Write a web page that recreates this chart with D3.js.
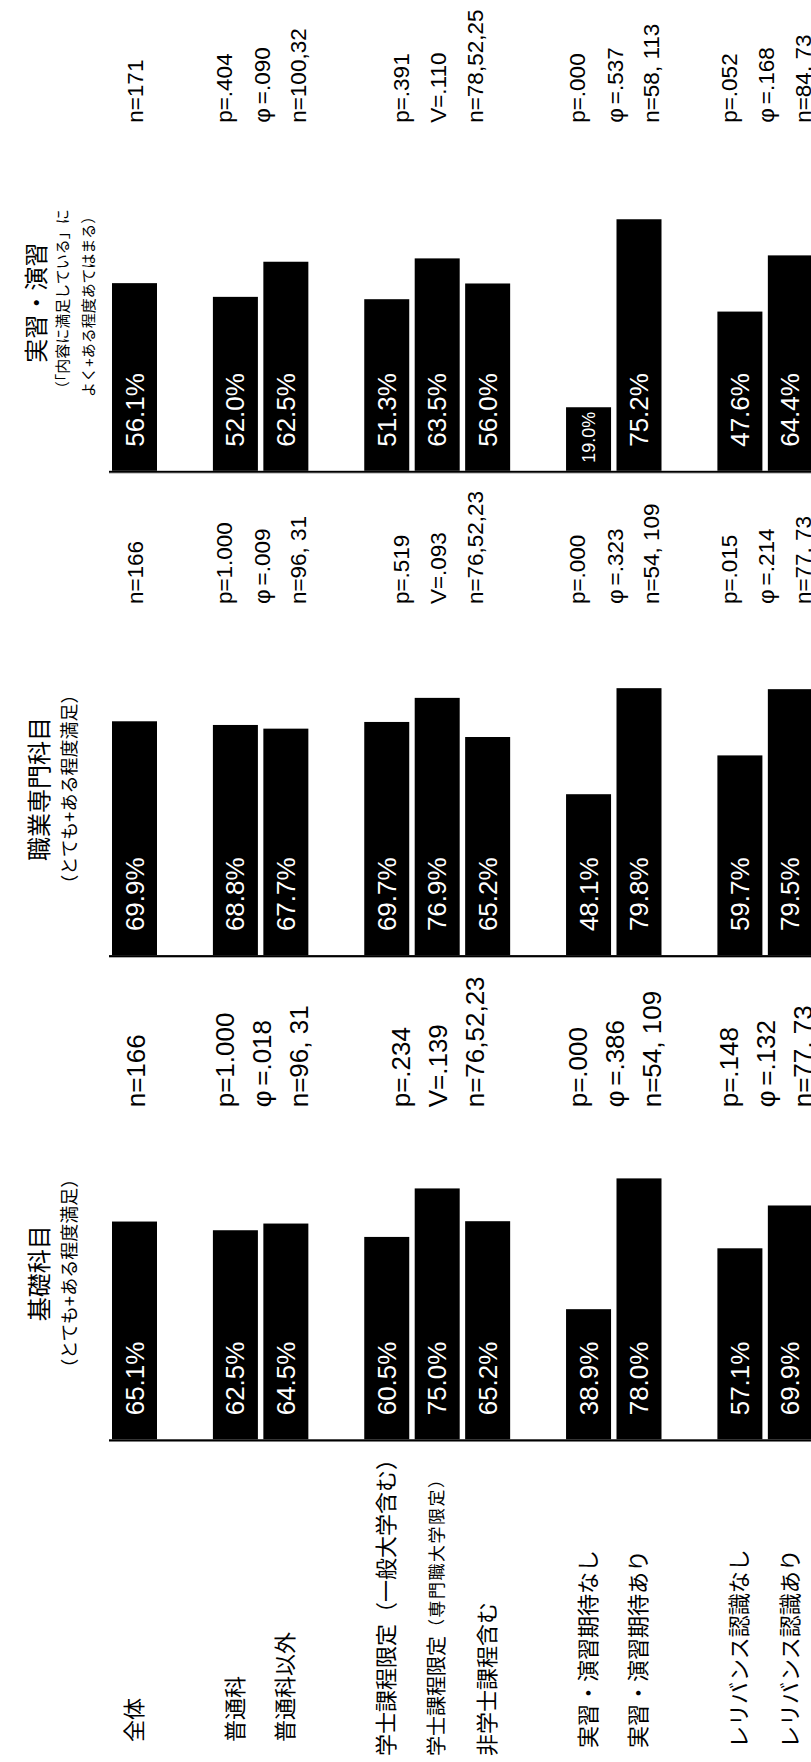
<!DOCTYPE html>
<html>
<head>
<meta charset="utf-8">
<script src="https://cdn.jsdelivr.net/npm/d3@7"></script>
<style>
  html, body { margin: 0; padding: 0; background: #fff; }
  svg { display: block; }
  text { font-family: "Liberation Sans", "Noto Sans CJK JP", sans-serif; }
</style>
</head>
<body>
<svg id="chart" width="811" height="1762"></svg>
<script>
// Respondent groups (one bar per group in every panel)
const categories = [
  "全体",
  "普通科", "普通科以外",
  "学士課程限定（一般大学含む）", "学士課程限定（専門職大学限定）", "非学士課程含む",
  "実習・演習期待なし", "実習・演習期待あり",
  "レリバンス認識なし", "レリバンス認識あり"
];
// comparison block each group belongs to; a blank slot separates blocks
const categoryBlock = [0, 1, 1, 2, 2, 2, 3, 3, 4, 4];

const panelTitles = ["基礎科目", "職業専門科目", "実習・演習"];
const panelSubtitles = [
  ["（とても+ある程度満足）"],
  ["（とても+ある程度満足）"],
  ["（「内容に満足している」に", "よく+ある程度あてはまる）"]
];

// share satisfied (%)
const basicValues      = [65.1, 62.5, 64.5, 60.5, 75.0, 65.2, 38.9, 78.0, 57.1, 69.9];
const vocationalValues = [69.9, 68.8, 67.7, 69.7, 76.9, 65.2, 48.1, 79.8, 59.7, 79.5];
const practicumValues  = [56.1, 52.0, 62.5, 51.3, 63.5, 56.0, 19.0, 75.2, 47.6, 64.4];

// test results per block
const basicStats = [
  ["n=166"],
  ["p=1.000", "φ=.018", "n=96, 31"],
  ["p=.234", "V=.139", "n=76,52,23"],
  ["p=.000", "φ=.386", "n=54, 109"],
  ["p=.148", "φ=.132", "n=77, 73"]
];
const vocationalStats = [
  ["n=166"],
  ["p=1.000", "φ=.009", "n=96, 31"],
  ["p=.519", "V=.093", "n=76,52,23"],
  ["p=.000", "φ=.323", "n=54, 109"],
  ["p=.015", "φ=.214", "n=77, 73"]
];
const practicumStats = [
  ["n=171"],
  ["p=.404", "φ=.090", "n=100,32"],
  ["p=.391", "V=.110", "n=78,52,25"],
  ["p=.000", "φ=.537", "n=58, 113"],
  ["p=.052", "φ=.168", "n=84, 73"]
];

const panels = [
  { values: basicValues, stats: basicStats },
  { values: vocationalValues, stats: vocationalStats },
  { values: practicumValues, stats: practicumStats }
];

// ---- layout (drawn as a horizontal chart, then turned a quarter turn) ----
const W = 1762;
const panelX0 = [322.7, 806.9, 1291.2];   // baseline of each panel
const statsX = [332, 351, 348];
const statsFont = [26, 22.5, 22.5];
const lineGap = 37;
const labelX = [20, 20, 6, 14, 14];       // label indent per block

// slot keys: one per category, plus spacer slots between blocks
const slotKeys = [];
categories.forEach((c, i) => {
  if (i > 0 && categoryBlock[i] !== categoryBlock[i - 1]) slotKeys.push("gap" + i);
  slotKeys.push(c);
});

const y = d3.scaleBand()
  .domain(slotKeys)
  .range([112, 812.85])
  .paddingInner(0.108)
  .paddingOuter(0);
const bw = y.bandwidth();

const x = d3.scaleLinear().domain([0, 100]).range([0, 334.5]);

const svg = d3.select("#chart");
svg.append("rect").attr("width", 811).attr("height", 1762).attr("fill", "#fff");

const g = svg.append("g").attr("transform", `translate(0,${W}) rotate(-90)`);

// category labels
const labels = g.append("g").attr("class", "labels");
categories.forEach((c, i) => {
  const t = labels.append("text")
    .attr("x", labelX[categoryBlock[i]])
    .attr("y", y(c) + bw / 2)
    .attr("dominant-baseline", "central")
    .attr("fill", "#000");
  const m = c.match(/^(.*?)(（.*）)$/);
  if (m && c.includes("専門職")) {
    t.append("tspan").attr("font-size", 20).text(m[1]);
    t.append("tspan").attr("font-size", 17).attr("letter-spacing", 1.5).text(m[2]);
  } else {
    t.attr("font-size", 22).text(c);
  }
});

// block centres for the statistics text
const blockIds = Array.from(new Set(categoryBlock));
const blockCenter = blockIds.map(b => {
  const members = categories.filter((c, i) => categoryBlock[i] === b);
  const first = y(members[0]), last = y(members[members.length - 1]);
  return (first + last + bw) / 2;
});

panels.forEach((p, pi) => {
  const pg = g.append("g").attr("transform", `translate(${panelX0[pi]},0)`);

  // bars
  pg.selectAll("rect.bar")
    .data(p.values)
    .join("rect")
    .attr("class", "bar")
    .attr("x", 0)
    .attr("y", (d, i) => y(categories[i]))
    .attr("width", d => x(d))
    .attr("height", bw)
    .attr("fill", "#000");

  // value labels inside bars (short bars get a smaller label)
  pg.selectAll("text.val")
    .data(p.values)
    .join("text")
    .attr("class", "val")
    .attr("x", d => x(d) < 100 ? 8 : 24)
    .attr("y", (d, i) => y(categories[i]) + bw / 2)
    .attr("dominant-baseline", "central")
    .attr("font-size", d => x(d) < 100 ? 18 : 26)
    .attr("fill", "#fff")
    .text(d => d.toFixed(1) + "%");

  // baseline
  pg.append("rect").attr("x", -2.7).attr("width", 1).attr("y", 109).attr("height", 710).attr("fill", "#9a9a9a");
  pg.append("rect").attr("x", -1.9).attr("width", 1.9).attr("y", 109).attr("height", 710).attr("fill", "#000");

  // title block
  const tg = pg.append("g");
  if (pi < 2) {
    tg.append("text").attr("x", 166).attr("y", 39).attr("text-anchor", "middle")
      .attr("dominant-baseline", "central").attr("font-size", 24).text(panelTitles[pi]);
    tg.append("text").attr("x", 166).attr("y", 70).attr("text-anchor", "middle")
      .attr("dominant-baseline", "central").attr("font-size", 18).text(panelSubtitles[pi][0]);
  } else {
    tg.append("text").attr("x", 168).attr("y", 36).attr("text-anchor", "middle")
      .attr("dominant-baseline", "central").attr("font-size", 24).text(panelTitles[pi]);
    panelSubtitles[pi].forEach((s, k) => {
      tg.append("text").attr("x", 168).attr("y", 62 + k * 26).attr("text-anchor", "middle")
        .attr("dominant-baseline", "central").attr("font-size", 15).text(s);
    });
  }

  // statistics; the Greek letter is set a little apart from "="
  p.stats.forEach((lines, b) => {
    lines.forEach((s, k) => {
      const t = pg.append("text")
        .attr("x", statsX[pi])
        .attr("y", blockCenter[b] + (k - (lines.length - 1) / 2) * lineGap + 1)
        .attr("dominant-baseline", "central")
        .attr("font-size", statsFont[pi])
        .attr("fill", "#000");
      if (s.startsWith("φ")) {
        t.append("tspan").text("φ");
        t.append("tspan").attr("dx", statsFont[pi] * 0.18).text(s.slice(1));
      } else {
        t.text(s);
      }
    });
  });
});
</script>
</body>
</html>
